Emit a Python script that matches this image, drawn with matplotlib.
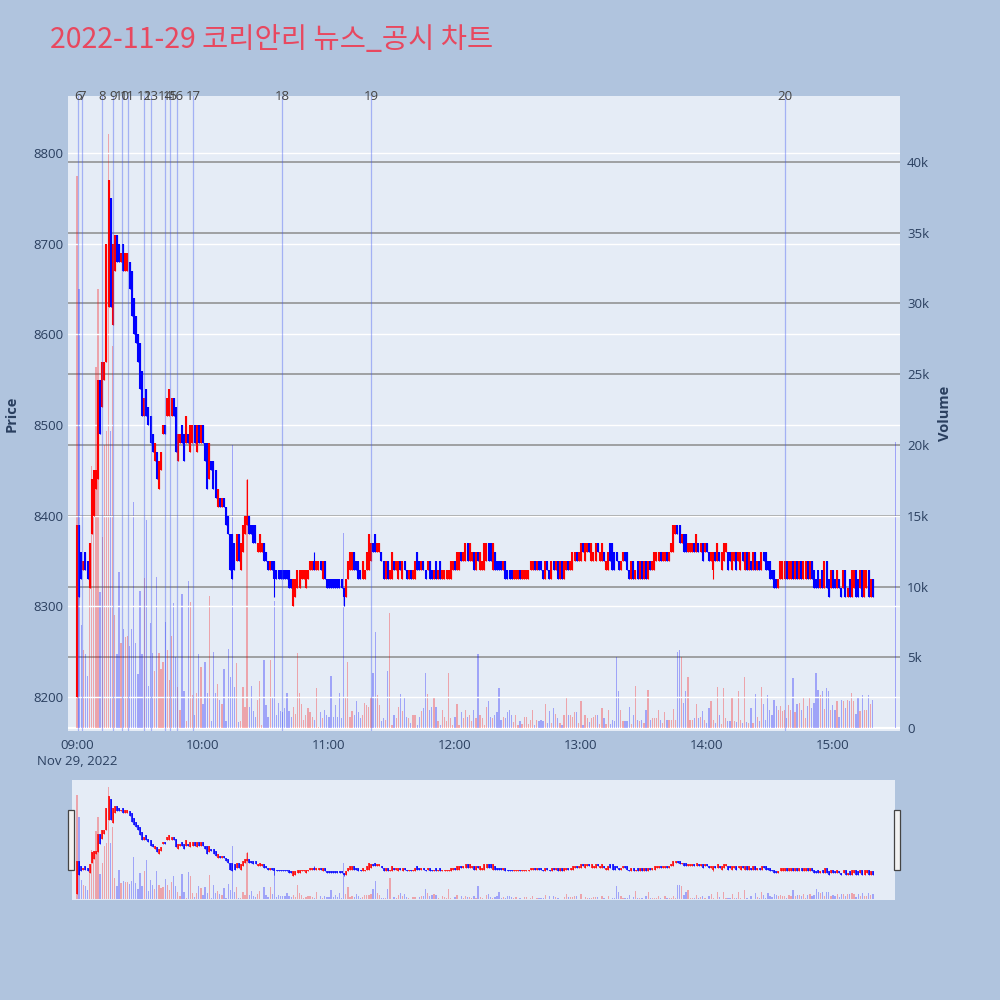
import matplotlib
matplotlib.use("Agg")
import matplotlib.pyplot as plt
import matplotlib.transforms as mtransforms
from matplotlib.patches import Rectangle
import numpy as np

plt.rcParams["font.family"] = ["Open Sans", "Noto Sans CJK KR", "DejaVu Sans"]

# ---------------- data ----------------
title = "2022-11-29 코리안리 뉴스_공시 차트"

# one candle per minute from 09:00 (minute 0) to 15:19 (minute 379)
opens = [
    8200, 8390, 8360, 8340, 8360, 8350, 8320, 8380, 8400, 8430,
    8440, 8550, 8520, 8550, 8570, 8630, 8750, 8610, 8670, 8710,
    8700, 8680, 8700, 8670, 8670, 8680, 8670, 8640, 8620, 8600,
    8590, 8560, 8510, 8540, 8520, 8510, 8490, 8460, 8470, 8430,
    8450, 8490, 8500, 8510, 8510, 8510, 8530, 8520, 8460, 8480,
    8500, 8490, 8480, 8490, 8470, 8480, 8500, 8470, 8500, 8480,
    8500, 8480, 8480, 8440, 8460, 8460, 8450, 8410, 8420, 8410,
    8420, 8410, 8400, 8380, 8380, 8370, 8350, 8380, 8340, 8360,
    8380, 8390, 8400, 8390, 8390, 8390, 8360, 8360, 8360, 8370,
    8360, 8350, 8340, 8350, 8350, 8340, 8340, 8340, 8340, 8340,
    8340, 8340, 8330, 8300, 8310, 8320, 8320, 8330, 8330, 8320,
    8330, 8340, 8340, 8350, 8340, 8340, 8350, 8330, 8350, 8330,
    8330, 8330, 8330, 8330, 8330, 8330, 8330, 8320, 8310, 8330,
    8340, 8340, 8360, 8350, 8350, 8340, 8330, 8330, 8340, 8340,
    8350, 8370, 8380, 8360, 8360, 8360, 8350, 8330, 8350, 8330,
    8330, 8350, 8340, 8330, 8350, 8330, 8350, 8340, 8330, 8340,
    8330, 8330, 8360, 8350, 8340, 8350, 8340, 8340, 8350, 8340,
    8330, 8350, 8330, 8350, 8330, 8330, 8330, 8330, 8330, 8340,
    8350, 8340, 8340, 8360, 8350, 8350, 8370, 8350, 8350, 8360,
    8340, 8360, 8340, 8340, 8340, 8350, 8370, 8370, 8340, 8360,
    8350, 8350, 8350, 8340, 8350, 8340, 8340, 8340, 8330, 8330,
    8330, 8340, 8330, 8330, 8330, 8330, 8340, 8340, 8350, 8340,
    8350, 8350, 8340, 8330, 8350, 8340, 8330, 8350, 8340, 8350,
    8330, 8350, 8330, 8340, 8350, 8340, 8340, 8350, 8360, 8350,
    8350, 8370, 8350, 8360, 8370, 8350, 8350, 8350, 8370, 8350,
    8350, 8360, 8340, 8340, 8370, 8370, 8360, 8360, 8350, 8340,
    8350, 8360, 8360, 8340, 8330, 8350, 8330, 8350, 8330, 8350,
    8330, 8350, 8330, 8350, 8340, 8340, 8350, 8350, 8360, 8350,
    8350, 8360, 8350, 8360, 8360, 8380, 8390, 8390, 8370, 8380,
    8380, 8360, 8360, 8360, 8370, 8360, 8370, 8360, 8370, 8360,
    8370, 8360, 8350, 8340, 8360, 8350, 8360, 8340, 8350, 8360,
    8360, 8360, 8340, 8350, 8360, 8350, 8340, 8360, 8340, 8360,
    8340, 8350, 8340, 8360, 8340, 8350, 8340, 8360, 8360, 8350,
    8350, 8340, 8340, 8330, 8320, 8330, 8330, 8330, 8350, 8330,
    8330, 8350, 8330, 8350, 8330, 8350, 8330, 8330, 8350, 8330,
    8350, 8340, 8330, 8340, 8320, 8340, 8320, 8350, 8330, 8320,
    8340, 8330, 8320, 8330, 8320, 8320, 8340, 8310, 8330, 8310,
    8320, 8340, 8330, 8320, 8340, 8310, 8320, 8340, 8310, 8330,
]
closes = [
    8390, 8310, 8330, 8350, 8340, 8330, 8370, 8440, 8450, 8450,
    8550, 8490, 8570, 8570, 8700, 8770, 8630, 8700, 8710, 8680,
    8680, 8690, 8670, 8690, 8690, 8650, 8620, 8600, 8590, 8570,
    8540, 8510, 8530, 8510, 8500, 8480, 8470, 8480, 8440, 8460,
    8470, 8500, 8490, 8530, 8540, 8530, 8510, 8470, 8490, 8490,
    8480, 8460, 8510, 8480, 8500, 8500, 8480, 8500, 8480, 8500,
    8480, 8460, 8430, 8480, 8450, 8430, 8420, 8430, 8410, 8420,
    8410, 8390, 8380, 8340, 8330, 8340, 8380, 8350, 8370, 8390,
    8400, 8400, 8380, 8380, 8370, 8370, 8370, 8380, 8370, 8350,
    8350, 8340, 8350, 8340, 8330, 8330, 8330, 8330, 8330, 8330,
    8330, 8320, 8320, 8330, 8330, 8340, 8340, 8340, 8340, 8340,
    8340, 8350, 8350, 8340, 8350, 8350, 8340, 8350, 8330, 8320,
    8320, 8320, 8320, 8320, 8320, 8320, 8320, 8310, 8330, 8350,
    8360, 8360, 8340, 8340, 8330, 8330, 8350, 8340, 8360, 8380,
    8370, 8360, 8360, 8370, 8370, 8350, 8330, 8350, 8330, 8340,
    8360, 8340, 8350, 8350, 8340, 8350, 8340, 8330, 8340, 8330,
    8340, 8350, 8340, 8340, 8350, 8340, 8330, 8350, 8330, 8330,
    8340, 8330, 8340, 8330, 8340, 8340, 8340, 8340, 8350, 8350,
    8340, 8360, 8360, 8350, 8360, 8370, 8350, 8370, 8360, 8340,
    8360, 8350, 8360, 8350, 8370, 8370, 8350, 8350, 8370, 8340,
    8340, 8340, 8340, 8350, 8330, 8330, 8330, 8330, 8340, 8340,
    8340, 8330, 8340, 8340, 8340, 8340, 8350, 8350, 8340, 8350,
    8340, 8340, 8330, 8350, 8340, 8330, 8350, 8340, 8350, 8330,
    8350, 8330, 8350, 8350, 8340, 8350, 8360, 8360, 8350, 8360,
    8370, 8360, 8370, 8370, 8360, 8370, 8360, 8370, 8360, 8360,
    8370, 8350, 8350, 8360, 8350, 8340, 8340, 8350, 8340, 8350,
    8360, 8350, 8340, 8330, 8350, 8330, 8340, 8330, 8350, 8330,
    8350, 8330, 8350, 8340, 8350, 8360, 8360, 8360, 8350, 8360,
    8360, 8350, 8360, 8370, 8390, 8390, 8380, 8370, 8380, 8360,
    8360, 8370, 8370, 8370, 8360, 8380, 8360, 8370, 8350, 8370,
    8360, 8350, 8360, 8360, 8350, 8370, 8350, 8360, 8370, 8370,
    8340, 8350, 8360, 8360, 8340, 8360, 8360, 8350, 8360, 8340,
    8360, 8340, 8360, 8340, 8350, 8340, 8360, 8350, 8340, 8340,
    8330, 8330, 8320, 8320, 8330, 8350, 8350, 8350, 8330, 8350,
    8350, 8330, 8350, 8330, 8350, 8330, 8350, 8350, 8330, 8350,
    8330, 8320, 8320, 8320, 8330, 8320, 8350, 8320, 8310, 8340,
    8320, 8320, 8340, 8320, 8310, 8340, 8310, 8320, 8310, 8340,
    8340, 8310, 8310, 8340, 8310, 8340, 8340, 8310, 8330, 8310,
]
# wicks that reach beyond the candle body (minute: price)
wick_highs = {81: 8440, 113: 8360}
wick_lows = {94: 8310, 127: 8300, 303: 8330}

# traded volume per minute, in thousands of shares
volumes_k = [
    39, 31, 7.3, 5.5, 5.2, 3.7, 10, 18.5, 18, 25.5,
    31, 9.6, 13.5, 20, 21, 42, 21, 27, 8, 5.2,
    11, 6, 7, 6.4, 6.5, 5.8, 7, 16, 6, 3.8,
    9.7, 5.2, 10.6, 14.7, 3, 7.4, 5.3, 4, 10.7, 5.3,
    4.2, 4.7, 7.5, 5.5, 3.4, 6.5, 8.8, 5, 2.9, 1.3,
    9.5, 2.6, 0.5, 10.4, 8.9, 2.3, 0.9, 2.5, 5.2, 4.3,
    1.7, 4.7, 2.5, 9.3, 0.5, 5.4, 2.5, 3.1, 2, 1.7,
    4.2, 0.5, 5.6, 3.6, 20, 2.9, 4.6, 0.4, 0.5, 2.9,
    1.5, 17.5, 1.5, 3.0, 1.2, 0.8, 2.0, 3.3, 0.2, 4.8,
    1.6, 0.8, 4.8, 2.1, 9.0, 0.9, 1.8, 1.2, 1.1, 1.4,
    2.5, 1.2, 0.8, 1.5, 1.0, 5.3, 2.5, 1.7, 0.6, 0.9,
    1.4, 1.1, 0.8, 0.6, 2.8, 0.1, 1.1, 0.7, 1.25, 0.9,
    0.8, 3.7, 0.8, 1.6, 0.8, 2.5, 0.7, 13.8, 2.1, 4.7,
    0.8, 1.2, 0.9, 1.9, 1.1, 0.7, 0.9, 1.8, 1.6, 1.5,
    2.2, 3.9, 6.8, 2.3, 1.6, 0.5, 0.7, 0.6, 4.0, 8.1,
    0.2, 0.9, 0.7, 1.5, 2.4, 1.2, 2.2, 0.8, 0.7, 0.35,
    0.9, 0.9, 0.2, 0.8, 1.2, 1.4, 3.9, 2.4, 1.3, 1.5,
    2.1, 1.5, 0.5, 0.2, 1.3, 0.8, 0.5, 3.9, 0.7, 0.2,
    0.8, 1.7, 0.2, 1.1, 0.7, 1.3, 0.8, 0.9, 0.5, 1.25,
    0.7, 5.2, 0.9, 0.7, 0.2, 1.5, 1.9, 0.8, 0.7, 0.9,
    1.1, 2.8, 0.6, 0.8, 0.7, 1.1, 1.3, 0.9, 0.4, 0.9,
    0.2, 0.5, 0.3, 0.8, 0.8, 0.3, 0.6, 1.3, 0.2, 0.6,
    0.5, 0.6, 0.5, 1.7, 0.35, 1.2, 0.35, 1.4, 1.0, 0.7,
    0.35, 0.2, 0.9, 2.1, 0.9, 0.9, 0.8, 1.1, 1.1, 0.35,
    1.9, 0.2, 0.9, 0.7, 0.4, 0.7, 0.8, 0.9, 0.95, 0.3,
    1.4, 0.7, 0.3, 1.3, 0.25, 0.55, 0.5, 5.0, 2.6, 1.3,
    0.5, 0.5, 0.5, 1.5, 0.3, 0.9, 3.0, 0.6, 0.5, 0.6,
    0.35, 1.3, 2.7, 0.6, 0.7, 0.7, 0.7, 1.3, 0.55, 0.35,
    1.1, 0.6, 0.6, 0.55, 1.35, 0.55, 5.35, 5.5, 5.0, 1.8,
    2.6, 3.6, 0.6, 0.6, 0.7, 1.7, 0.7, 0.8, 1.2, 0.6,
    0.35, 1.4, 1.9, 0.6, 0.35, 2.9, 0.95, 0.25, 2.8, 0.7,
    0.5, 0.5, 2.2, 0.5, 0.4, 2.6, 0.6, 0.35, 3.6, 0.4,
    0.35, 1.4, 0.35, 2.4, 0.8, 0.5, 2.9, 1.7, 0.6, 2.3,
    1.3, 0.95, 2.0, 1.55, 1.3, 1.55, 1.2, 1.3, 0.7, 1.6,
    1.3, 3.5, 1.1, 1.7, 1.8, 1.3, 2.1, 0.7, 1.55, 2.1,
    1.4, 1.8, 3.9, 2.7, 2.3, 2.6, 1.35, 2.8, 2.6, 1.3,
    1.6, 1.3, 1.9, 0.8, 2.0, 1.9, 1.4, 2.0, 1.9, 2.5,
    1.9, 1.0, 2.1, 1.2, 2.3, 1.3, 1.3, 2.3, 1.7, 2.0,
]
closing_minute = 390          # 15:30 closing auction
closing_volume_k = 20.2

news_times = ["09:00:20", "09:02:30", "09:11:55", "09:17:20", "09:21:35",
              "09:24:05", "09:31:55", "09:35:10", "09:41:50", "09:44:25",
              "09:47:30", "09:55:25", "10:37:35", "11:20:00", "14:37:05"]
news_labels = ["6", "7", "8", "9", "10", "11", "12", "13", "14", "15",
               "16", "17", "18", "19", "20"]

price_ticks = [8200, 8300, 8400, 8500, 8600, 8700, 8800]
volume_ticks_k = [0, 5, 10, 15, 20, 25, 30, 35, 40]
volume_tick_labels = ["0", "5k", "10k", "15k", "20k", "25k", "30k", "35k", "40k"]
time_ticks_min = [0, 60, 120, 180, 240, 300, 360]
time_tick_labels = ["09:00\nNov 29, 2022", "10:00", "11:00", "12:00",
                    "13:00", "14:00", "15:00"]

# ---------------- style ----------------
RED = "#ff0000"
BLUE = "#0000ff"
PAPER = "#b0c4de"
PLOT_BG = "#e5ecf6"
TICK_C = "#2a3f5f"
X_RANGE = (-4.3, 392.0)
PRICE_RANGE = (8162.5, 8863.0)
VOL_RANGE = (-210, 44660)

o = np.array(opens, dtype=float)
c = np.array(closes, dtype=float)
x = np.arange(len(o))
up = c > o
body_lo = np.minimum(o, c)
body_hi = np.maximum(o, c)
hi = body_hi.copy()
lo = body_lo.copy()
for k, v in wick_highs.items():
    hi[k] = max(hi[k], v)
for k, v in wick_lows.items():
    lo[k] = min(lo[k], v)
cols = np.where(up, RED, BLUE)
vol = np.array(volumes_k) * 1000.0


def minutes(t):
    h, m, s = (int(v) for v in t.split(":"))
    return (h - 9) * 60 + m + s / 60.0


def draw(ax_v, ax_p, body_lw, wick_lw, bar_w):
    ax_v.bar(x, vol, width=bar_w, color=cols, alpha=0.3, linewidth=0, zorder=2)
    ax_v.bar([closing_minute], [closing_volume_k * 1000], width=bar_w,
             color=BLUE, alpha=0.3, linewidth=0, zorder=2)
    ax_p.vlines(x, lo, hi, colors=cols, linewidth=wick_lw, zorder=3)
    ax_p.vlines(x, body_lo, body_hi, colors=cols, linewidth=body_lw, zorder=3)


fig = plt.figure(figsize=(10, 10), dpi=100, facecolor=PAPER)

# main chart
ax_vol = fig.add_axes([0.068, 0.269, 0.832, 0.635])
ax_vol.set_facecolor(PLOT_BG)
ax_price = ax_vol.twinx()
draw(ax_vol, ax_price, 1.5, 0.8, 0.6)

ax_vol.set_xlim(*X_RANGE)
ax_vol.set_ylim(*VOL_RANGE)
ax_price.set_ylim(*PRICE_RANGE)

ax_vol.yaxis.tick_right()
ax_price.yaxis.tick_left()
ax_vol.set_yticks([v * 1000 for v in volume_ticks_k])
ax_vol.set_yticklabels(volume_tick_labels)
ax_price.set_yticks(price_ticks)
ax_price.set_yticklabels([str(p) for p in price_ticks])
ax_vol.set_xticks(time_ticks_min)
ax_vol.set_xticklabels(time_tick_labels, linespacing=1.25)

ax_vol.grid(axis="y", color="#8c8c8c", linewidth=1.1, zorder=0)
ax_vol.set_axisbelow(True)
ax_vol.axhline(0, color="white", linewidth=1.6, zorder=1)
ax_price.grid(axis="y", color="white", linewidth=1.0, zorder=0)
ax_price.set_axisbelow(True)

for a in (ax_vol, ax_price):
    for s in a.spines.values():
        s.set_visible(False)
    a.tick_params(length=0, labelsize=9.5, labelcolor=TICK_C)
ax_vol.tick_params(axis="y", pad=5)
ax_vol.tick_params(axis="x", pad=6)
ax_price.tick_params(axis="y", pad=3)

# news markers
trans = mtransforms.blended_transform_factory(ax_price.transData, ax_price.transAxes)
for t, lab in zip(news_times, news_labels):
    xm = minutes(t)
    ax_price.axvline(xm, color=(0.25, 0.35, 0.95), alpha=0.4, linewidth=0.9, zorder=5)
    ax_price.text(xm, 1.0, lab, transform=trans, ha="center", va="center",
                  fontsize=9.5, color="#444444", zorder=6, clip_on=False)

fig.text(0.012, 0.5865, "Price", rotation=90, ha="center", va="center",
         fontsize=10.5, fontweight="bold", color=TICK_C)
fig.text(0.945, 0.5865, "Volume", rotation=90, ha="center", va="center",
         fontsize=10.5, fontweight="bold", color=TICK_C)
fig.text(0.05, 0.960, title, ha="left", va="center", fontsize=20.5,
         color="#e8485f", family=["Noto Sans CJK KR", "DejaVu Sans"])

# range slider
rs_vol = fig.add_axes([0.072, 0.100, 0.823, 0.120])
rs_vol.set_facecolor(PLOT_BG)
rs_price = rs_vol.twinx()
draw(rs_vol, rs_price, 1.1, 0.5, 0.6)
span = (0.895 - 0.072) * 1000 / 2.1
rs_vol.set_xlim((72 - 77) / 2.1, (72 - 77) / 2.1 + span)
rs_vol.set_ylim(*VOL_RANGE)
rs_price.set_ylim(*PRICE_RANGE)
for a in (rs_vol, rs_price):
    a.set_xticks([])
    a.set_yticks([])
    for s in a.spines.values():
        s.set_visible(False)

for hx in (0.068, 0.894):
    fig.patches.append(Rectangle((hx, 0.130), 0.006, 0.060, transform=fig.transFigure,
                                 facecolor="#f2f2f2", edgecolor="#444444",
                                 linewidth=0.9, zorder=10))

fig.savefig("out.png", dpi=100, facecolor=PAPER)
